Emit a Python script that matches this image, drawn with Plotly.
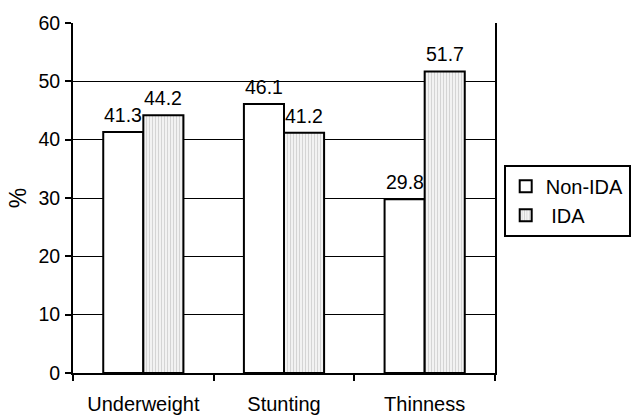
import plotly.graph_objects as go

categories = ["Underweight", "Stunting", "Thinness"]
non_ida = [41.3, 46.1, 29.8]
ida = [44.2, 41.2, 51.7]
series_names = ["Non-IDA", "\u00a0IDA"]
y_ticks = [0, 10, 20, 30, 40, 50, 60]

FONT = "Liberation Sans, Arial, sans-serif"

fig = go.Figure()
fig.add_trace(go.Bar(
    name=series_names[0], x=categories, y=non_ida,
    marker=dict(color="white", line=dict(color="black", width=2)),
))
fig.add_trace(go.Bar(
    name=series_names[1], x=categories, y=ida,
    marker=dict(color="#eeeeee", line=dict(color="black", width=2),
                pattern=dict(shape="|", fgcolor="#b5b5b5", bgcolor="#f2f2f2",
                             size=3, solidity=0.35)),
))

annotations = []
for vals, shift in ((non_ida, -20), (ida, 20)):
    for c, v in zip(categories, vals):
        annotations.append(dict(
            x=c, y=v, text=f"{v}", showarrow=False, xshift=shift, yshift=4,
            yanchor="bottom", xanchor="center",
            font=dict(family=FONT, size=19.5, color="black")))

fig.update_layout(
    width=632, height=415,
    margin=dict(l=73, r=137, t=23, b=42),
    paper_bgcolor="white", plot_bgcolor="white",
    font=dict(family=FONT, size=19.5, color="black"),
    barmode="group", bargap=0.43, bargroupgap=0,
    annotations=annotations,
    legend=dict(xref="container", yref="container", x=0.797, y=0.603,
                xanchor="left", yanchor="top",
                bordercolor="black", borderwidth=2, bgcolor="white",
                font=dict(family=FONT, size=20, color="black"),
                itemsizing="constant", itemwidth=30),
    showlegend=True,
)
fig.update_xaxes(
    automargin=False,
    showline=True, linecolor="black", linewidth=2,
    ticks="outside", tickson="boundaries", ticklen=6, tickwidth=2, tickcolor="black",
    showgrid=False, ticklabelstandoff=12, tickfont=dict(size=20),
)
fig.update_yaxes(
    automargin=False,
    range=[0, 60], tickvals=y_ticks, showline=True, linecolor="black", linewidth=2,
    mirror=True, ticks="outside", ticklen=6, tickwidth=2, tickcolor="black",
    showgrid=True, gridcolor="black", gridwidth=1.3, zeroline=False,
    title=dict(text="%", standoff=5), ticklabelstandoff=1,
)
fig.write_html(
    "out.html",
    config={"displayModeBar": False},
    post_script="document.body.style.margin='0';document.documentElement.style.overflow='hidden';",
)
